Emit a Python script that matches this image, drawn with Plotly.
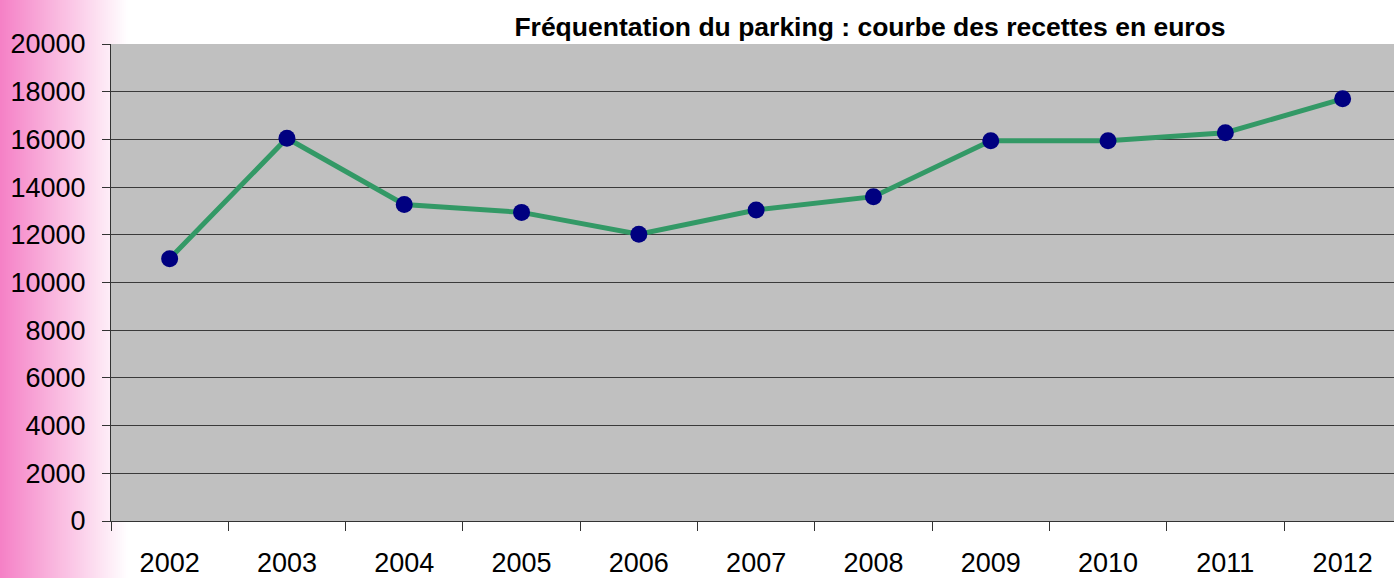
import plotly.graph_objects as go

years = ["2002", "2003", "2004", "2005", "2006", "2007", "2008", "2009", "2010", "2011", "2012"]
recettes = [11000, 16050, 13270, 12940, 12020, 13040, 13600, 15940, 15940, 16280, 17700]
y_ticks = [0, 2000, 4000, 6000, 8000, 10000, 12000, 14000, 16000, 18000, 20000]
title_text = "Fréquentation du parking : courbe des recettes en euros"

W, H = 1394, 578
L, R, T, B = 111, 0, 44, 57
PW, PH = W - L - R, H - T - B

def px2x(p):
    return (p - L) / PW

def py2y(p):
    return 1 - (p - T) / PH

fig = go.Figure()
fig.add_trace(go.Scatter(
    x=years, y=recettes, mode="lines+markers",
    line=dict(color="#339966", width=5),
    marker=dict(color="#000080", size=17),
    showlegend=False,
))

# pink gradient on the left edge
shapes = []
c0 = (245, 128, 198)
gw = 128
step = 2
for p in range(0, gw, step):
    f = (p + step / 2) / gw
    col = "rgb(%d,%d,%d)" % tuple(round(c + (255 - c) * f) for c in c0)
    x0, x1 = px2x(p), px2x(p + step)
    if p + step <= L - 1:
        shapes.append(dict(type="rect", xref="paper", yref="paper", x0=x0, x1=x1,
                           y0=py2y(H), y1=py2y(0), fillcolor=col, line=dict(width=0),
                           layer="below"))
    else:
        shapes.append(dict(type="rect", xref="paper", yref="paper", x0=x0, x1=x1,
                           y0=py2y(T), y1=py2y(0), fillcolor=col, line=dict(width=0),
                           layer="below"))
        shapes.append(dict(type="rect", xref="paper", yref="paper", x0=x0, x1=x1,
                           y0=py2y(H), y1=py2y(T + PH), fillcolor=col, line=dict(width=0),
                           layer="below"))

fig.update_layout(
    width=W, height=H,
    margin=dict(l=L, r=R, t=T, b=B, pad=0),
    paper_bgcolor="white",
    plot_bgcolor="#C0C0C0",
    font=dict(family="Liberation Sans, Arial, sans-serif", color="black"),
    title=dict(text="<b>" + title_text + "</b>", x=870 / W, xanchor="center",
               y=1 - 27 / H, yanchor="middle",
               font=dict(size=26.5, family="Liberation Sans, Arial, sans-serif", color="black")),
    shapes=shapes,
    xaxis=dict(
        type="category", range=[-0.5, -0.5 + PW / 117.3],
        tickson="boundaries", ticks="outside", ticklen=9, tickcolor="#333333", tickwidth=1,
        showgrid=False, showline=True, linecolor="#333333", linewidth=1,
        tickfont=dict(size=27), ticklabelstandoff=18, zeroline=False,
    ),
    yaxis=dict(
        range=[0, 20000], tickvals=y_ticks, ticktext=[str(v) for v in y_ticks],
        ticks="outside", ticklen=8, tickcolor="#333333", tickwidth=1,
        showgrid=True, gridcolor="#3a3a3a", gridwidth=1,
        showline=True, linecolor="#333333", linewidth=1,
        zeroline=True, zerolinecolor="#333333", zerolinewidth=1,
        tickfont=dict(size=27), ticklabelstandoff=11,
    ),
)

fig.write_html("out.html", config={"displayModeBar": False},
               post_script="document.body.style.margin='0';document.body.style.overflow='hidden';")
